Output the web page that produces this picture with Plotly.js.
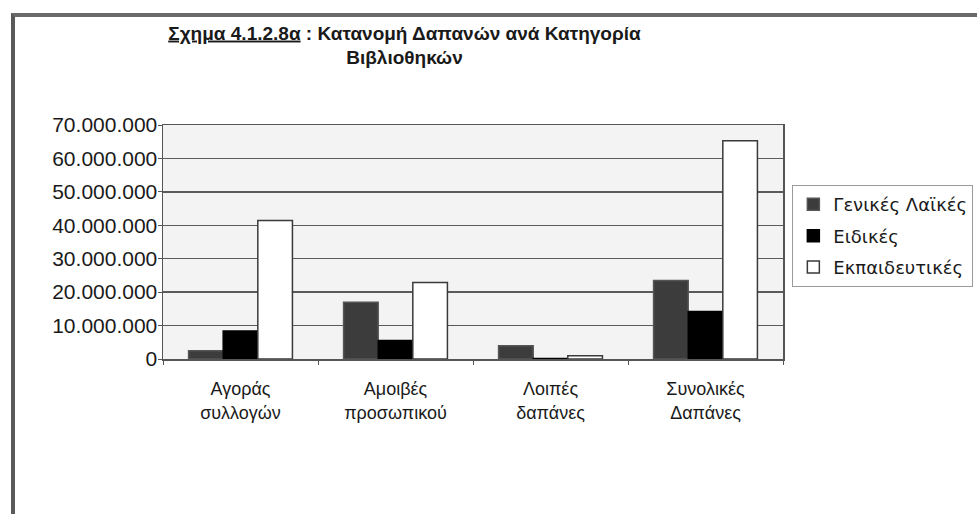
<!DOCTYPE html>
<html>
<head>
<meta charset="utf-8">
<script src="https://cdn.plot.ly/plotly-3.0.1.min.js"></script>
<style>
  html, body { margin: 0; padding: 0; background: #ffffff; }
  #chart { position: absolute; left: 0; top: 0; width: 977px; height: 514px; }
  #frame { position: absolute; left: 11px; top: 13px; width: 1000px; height: 497px;
           border-top: 4px solid #6a6a6a; border-left: 4px solid #5a5a5a; border-bottom: 1px solid #d8d8d8;
           pointer-events: none; z-index: 5; }
</style>
</head>
<body>
<div id="chart"></div>
<div id="frame"></div>
<script>
// ---- data ----
const categories = ["Αγοράς<br>συλλογών", "Αμοιβές<br>προσωπικού", "Λοιπές<br>δαπάνες", "Συνολικές<br>Δαπάνες"];
const seriesNames = ["Γενικές Λαϊκές", "Ειδικές", "Εκπαιδευτικές"];
const genikesLaikes = [2500000, 17000000, 4000000, 23500000];
const eidikes = [8400000, 5500000, 150000, 14200000];
const ekpaideutikes = [41400000, 22900000, 1000000, 65300000];
const yTickValues = [0, 10000000, 20000000, 30000000, 40000000, 50000000, 60000000, 70000000];

const fillColors = ["#3c3c3c", "#000000", "#ffffff"];
const lineColors = ["#555555", "#000000", "#3a3a3a"];
const seriesValues = [genikesLaikes, eidikes, ekpaideutikes];

const traces = seriesNames.map((name, i) => ({
  type: "bar",
  name: name,
  legendgroup: "g" + i,
  x: categories,
  y: seriesValues[i],
  marker: { color: fillColors[i], line: { color: lineColors[i], width: 1.5 } },
  hoverinfo: "none"
}));

const layout = {
  width: 977,
  height: 514,
  separators: ",.",
  paper_bgcolor: "#ffffff",
  plot_bgcolor: "#f3f3f3",
  font: { family: "Liberation Sans, Arial, sans-serif", color: "#1a1a1a" },
  margin: { l: 163, r: 194, t: 125, b: 155 },
  title: {
    text: "<u>Σχημα 4.1.2.8α</u> : Κατανομή Δαπανών ανά Κατηγορία<br>Βιβλιοθηκών",
    font: { family: "Liberation Sans, Arial, sans-serif", size: 19, color: "#1a1a1a", weight: "bold" },
    xref: "container", x: 0.414, xanchor: "center",
    yref: "container", y: 0.923, yanchor: "top"
  },
  bargap: 0.33,
  bargroupgap: 0,
  barmode: "group",
  xaxis: {
    type: "category",
    showline: true, mirror: true, linecolor: "#555555", linewidth: 1.5,
    ticks: "outside", tickson: "boundaries", ticklen: 4, tickcolor: "#555555",
    tickfont: { size: 18, color: "#1a1a1a" },
    ticklabelstandoff: 13,
    showgrid: false, zeroline: false, fixedrange: true
  },
  yaxis: {
    range: [0, 70000000],
    tickvals: yTickValues,
    tickformat: ",d",
    showline: true, mirror: true, linecolor: "#555555", linewidth: 1.5,
    ticks: "outside", ticklen: 4, tickcolor: "#555555",
    ticklabelstandoff: -4,
    showgrid: true, gridcolor: "#5a5a5a", gridwidth: 1.5,
    zeroline: false,
    tickfont: { size: 21, color: "#1a1a1a" },
    fixedrange: true
  },
  legend: {
    xref: "container", yref: "container",
    x: 0.811, xanchor: "left", y: 0.64, yanchor: "top",
    bordercolor: "#9a9a9a", borderwidth: 1, bgcolor: "#ffffff",
    font: { family: "DejaVu Sans, sans-serif", size: 18, color: "#1a1a1a" },
    itemwidth: 30, traceorder: "grouped", tracegroupgap: 5
  },
  showlegend: true
};

Plotly.newPlot("chart", traces, layout, { staticPlot: true, displayModeBar: false });
</script>
</body>
</html>
